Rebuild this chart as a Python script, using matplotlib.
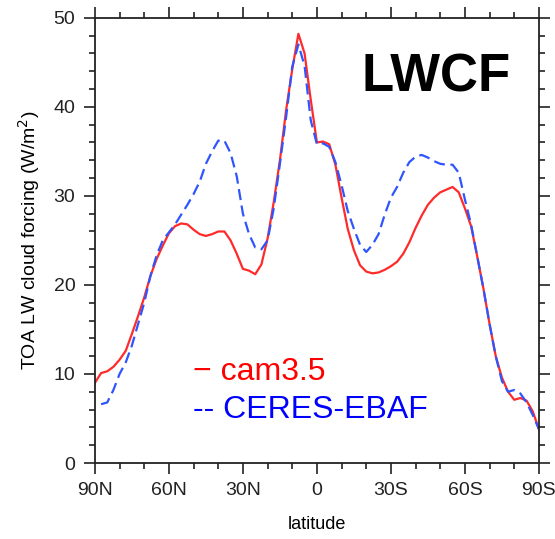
import matplotlib
matplotlib.use("Agg")
import matplotlib.pyplot as plt
from matplotlib.ticker import MultipleLocator
import numpy as np

plt.rcParams['font.family'] = ['Liberation Sans', 'DejaVu Sans']

# latitude grid (deg, north positive), 90N -> 90S
lat = [90, 87.5, 85, 82.5, 80, 77.5, 75, 72.5, 70, 67.5, 65, 62.5, 60, 57.5, 55,
       52.5, 50, 47.5, 45, 42.5, 40, 37.5, 35, 32.5, 30, 27.5, 25, 22.5, 20, 17.5,
       15, 12.5, 10, 7.5, 5, 2.5, 0, -2.5, -5, -7.5, -10, -12.5, -15, -17.5, -20,
       -22.5, -25, -27.5, -30, -32.5, -35, -37.5, -40, -42.5, -45, -47.5, -50,
       -52.5, -55, -57.5, -60, -62.5, -65, -67.5, -70, -72.5, -75, -77.5, -80,
       -82.5, -85, -87.5, -90]

cam35 = [9.0, 10.1, 10.3, 10.8, 11.6, 12.6, 14.5, 16.5, 18.6, 21.0, 22.9, 24.4,
         25.8, 26.6, 26.9, 26.8, 26.2, 25.7, 25.5, 25.7, 26.0, 26.0, 25.0, 23.5,
         21.8, 21.6, 21.2, 22.3, 25.2, 29.3, 34.0, 39.6, 44.2, 48.2, 46.0, 40.8,
         36.0, 36.1, 35.8, 33.5, 29.8, 26.3, 23.9, 22.2, 21.5, 21.3, 21.4, 21.7,
         22.1, 22.6, 23.5, 24.8, 26.4, 27.8, 29.0, 29.8, 30.4, 30.7, 31.0, 30.4,
         28.6, 26.6, 23.2, 19.6, 15.6, 12.0, 9.6, 8.0, 7.1, 7.3, 7.0, 5.8, 3.8]

ceres = [np.nan, 6.6, 6.8, 8.2, 10.0, 11.3, 13.2, 15.6, 18.0, 21.0, 23.3, 25.0,
         25.9, 26.8, 27.9, 29.0, 30.2, 31.6, 33.6, 35.0, 36.2, 36.2, 34.8, 32.2,
         28.0, 25.7, 24.2, 24.0, 25.0, 28.6, 33.6, 38.8, 44.5, 47.0, 44.6, 38.5,
         35.8, 35.9, 35.5, 33.8, 31.2, 28.3, 26.3, 24.5, 23.7, 24.5, 25.7, 27.9,
         29.8, 31.0, 32.6, 33.8, 34.4, 34.6, 34.3, 33.9, 33.6, 33.5, 33.5, 32.6,
         29.6, 26.8, 23.2, 19.6, 15.6, 12.0, 9.2, 8.0, 8.2, 7.8, 6.8, 5.4, 3.8]

xticks = [90, 60, 30, 0, -30, -60, -90]
xticklabels = ["90N", "60N", "30N", "0", "30S", "60S", "90S"]

fig = plt.figure(figsize=(5.55, 5.39), dpi=100)
ax = fig.add_axes([0.171, 0.141, 0.800, 0.826])

ax.plot(lat, cam35, color="#ff2a2a", lw=1.6)
ax.plot(lat, ceres, color="#2f55ff", lw=1.6, dashes=(5, 2.5))

ax.set_xlim(90, -90)
ax.set_ylim(0, 50)
ax.set_xticks(xticks)
ax.set_xticklabels(xticklabels)
ax.xaxis.set_minor_locator(MultipleLocator(10))
ax.yaxis.set_major_locator(MultipleLocator(10))
ax.yaxis.set_minor_locator(MultipleLocator(2))
ax.tick_params(which="both", direction="out", top=True, right=True,
               labelsize=14, width=1.2, colors="#222222")
ax.tick_params(which="major", length=8, pad=6)
ax.tick_params(which="minor", length=4)
for s in ax.spines.values():
    s.set_linewidth(1.3)
    s.set_color("#222222")

ax.set_xlabel("latitude", fontsize=13, labelpad=12)
ax.set_ylabel("TOA LW cloud forcing (W/m$^2$)", fontsize=14, labelpad=8)

ax.text(0.769, 0.867, "LWCF", transform=ax.transAxes, fontsize=38,
        fontweight="bold", ha="center", va="center")
ax.text(0.22, 0.186, "\u2212 cam3.5", transform=ax.transAxes, fontsize=23,
        color="red", ha="left", va="baseline")
ax.text(0.22, 0.101, "-- CERES-EBAF", transform=ax.transAxes, fontsize=23,
        color="blue", ha="left", va="baseline")

plt.savefig("out.png", dpi=100)
